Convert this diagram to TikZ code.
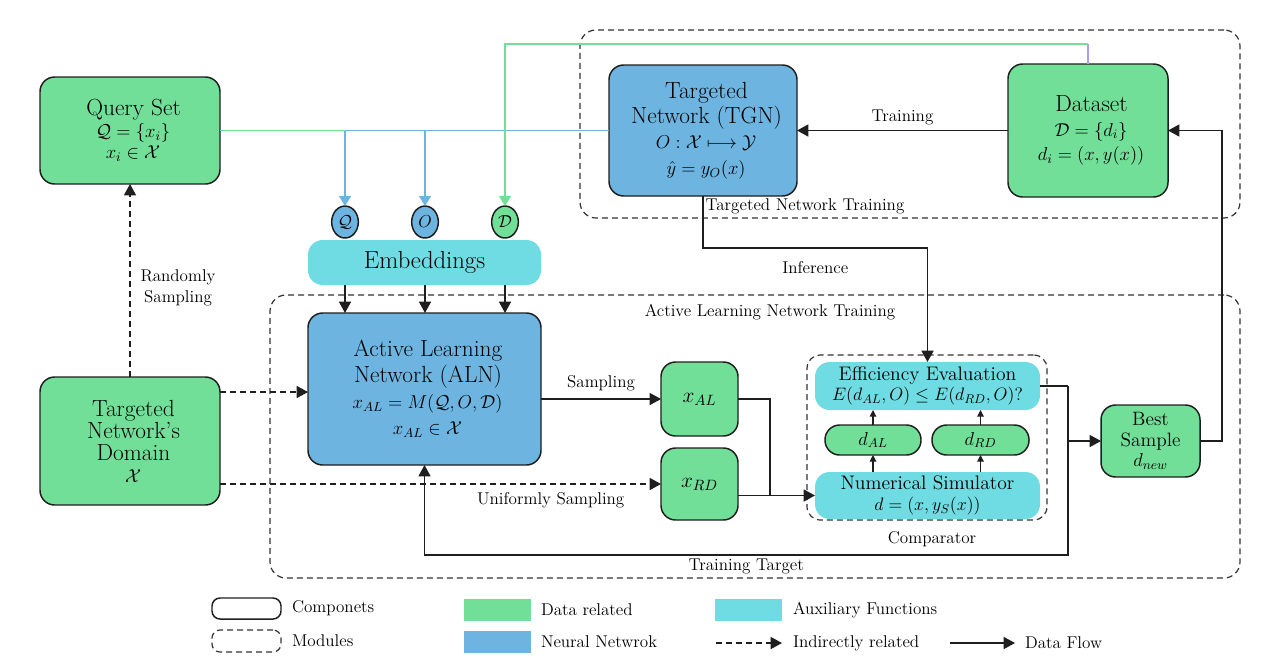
\RequirePackage{fix-cm}
\documentclass[tikz,border=0pt]{standalone}
\usepackage{amsmath,amssymb}
\usepackage{fontspec}
\usetikzlibrary{arrows.meta,calc,shapes.geometric}
\definecolor{cgreen}{HTML}{72DF99}
\definecolor{cblue}{HTML}{6DB5E0}
\definecolor{ccyan}{HTML}{6FDBE2}
\definecolor{cpurple}{HTML}{A99CF5}
\definecolor{cline}{HTML}{1E1E1E}
\definecolor{cdash}{HTML}{333333}
\newcommand\ttlA[1]{\fontsize{17.5}{#1}\selectfont}
\newcommand\mthA[1]{\fontsize{14}{#1}\selectfont}
\begin{document}
\begin{tikzpicture}[x=0.75pt,y=-0.75pt,
  every node/.style={inner sep=0pt, outer sep=0pt},
  spanpx/.style args={#1/#2/#3/#4}{at={({(#1+#3)/2},{(#2+#4)/2})}, minimum width={(#3-#1)*0.75pt}, minimum height={(#4-#2)*0.75pt}},
  box/.style={draw=cline, line width=1.1pt, rounded corners=11pt, align=center, inner sep=0pt},
  gbox/.style={box, fill=cgreen},
  bbox/.style={box, fill=cblue},
  abox/.style={fill=ccyan, rounded corners=11pt, align=center, inner sep=0pt},
  modbox/.style={draw=cdash, line width=0.9pt, dash pattern=on 4.5pt off 3pt, rounded corners=12pt, inner sep=0pt},
  plainline/.style={draw=cline, line width=1.1pt},
  flow/.style={draw=cline, line width=1.1pt, -{Triangle[length=8.5pt,width=9pt]}},
  indir/.style={flow, dash pattern=on 4.5pt off 3pt},
  smallflow/.style={draw=cline, line width=0.8pt, -{Triangle[length=5pt,width=5pt]}},
  gline/.style={draw=cgreen, line width=1.2pt},
  bline/.style={draw=cblue, line width=1.2pt},
  ctip/.style={-{Triangle[length=7.5pt,width=9pt]}},
  circ/.style={ellipse, draw=cline, line width=1.1pt, minimum width=20pt, minimum height=24pt, font=\fontsize{13}{15}\selectfont},
  lbl/.style={font=\fontsize{12.8}{15.5}\selectfont, align=center}
]
\useasboundingbox (0,0) rectangle (1280,669);

% modules
\node[modbox, spanpx=580/30/1240/218] (tnt) {};
\node[modbox, spanpx=270/295/1240/578] (alnt) {};
\node[modbox, rounded corners=10pt, spanpx=807/355/1047/520] (cmp) {};
\node[lbl] (ltnt) at (805,206) {Targeted Network Training};
\node[lbl] (lalnt) at (770,312) {Active Learning Network Training};
\node[lbl] (lcmp) at (932,539) {Comparator};

% components
\node[gbox, spanpx=40/77/220/184, font=\mthA{16}] (qs)
  {\ttlA{16} Query Set\\
   \mthA{16} $\mathcal{Q}=\{x_i\}$\\
   \mthA{16} $x_i\in\mathcal{X}$};
\node[bbox, spanpx=609/65/797/196, font=\mthA{19}] (tgn)
  {\ttlA{19} Targeted\\
   \ttlA{19} Network (TGN)\\
   \mthA{19} $O:\mathcal{X}\longmapsto\mathcal{Y}$\\
   \mthA{19} $\hat{y}=y_O(x)$};
\node[gbox, spanpx=1008/64/1168/197, font=\mthA{18.5}] (ds)
  {\ttlA{18.5} Dataset\\
   \mthA{18.5} $\mathcal{D}=\{d_i\}$\\
   \mthA{18.5} $d_i=(x,y(x))$};
\node[circ, fill=cblue] (cq) at (345,222) {$\mathcal{Q}$};
\node[circ, fill=cblue] (co) at (425,222) {$O$};
\node[circ, fill=cgreen] (cd) at (505,222) {$\mathcal{D}$};
\node[abox, spanpx=308/240/541/285, font=\fontsize{18.5}{20}\selectfont] (emb) {Embeddings};
\node[bbox, spanpx=308/313/541/465, font=\mthA{19.5}] (aln)
  {\ttlA{19.5} Active Learning\\
   \ttlA{19.5} Network (ALN)\\
   \mthA{19.5} $x_{AL}=M(\mathcal{Q},O,\mathcal{D})$\\
   \mthA{19.5} $x_{AL}\in\mathcal{X}$};
\node[gbox, spanpx=40/377/220/505, font=\mthA{16.5}] (tnd)
  {\ttlA{16.5} Targeted\\
   \ttlA{16.5} Network’s\\
   \ttlA{16.5} Domain\\
   \mthA{16.5} $\mathcal{X}$};
\node[gbox, spanpx=661/362/738/436, font=\fontsize{16}{18}\selectfont] (xal) {$x_{AL}$};
\node[gbox, spanpx=661/448/738/520, font=\fontsize{16}{18}\selectfont] (xrd) {$x_{RD}$};
\node[abox, spanpx=815/362/1040/410, font=\fontsize{14}{15.5}\selectfont] (ee)
  {\fontsize{14.7}{15.5}\selectfont Efficiency Evaluation\\
   \fontsize{13.5}{15.5}\selectfont $E(d_{AL},O)\leq E(d_{RD},O)?$};
\node[gbox, spanpx=825/425/921/455, font=\fontsize{14}{16}\selectfont] (dal) {$d_{AL}$};
\node[gbox, spanpx=932/425/1029/455, font=\fontsize{14}{16}\selectfont] (drd) {$d_{RD}$};
\node[abox, spanpx=815/472/1040/519, font=\fontsize{14}{15.5}\selectfont] (ns)
  {\fontsize{14.7}{15.5}\selectfont Numerical Simulator\\
   \fontsize{13.5}{15.5}\selectfont $d=(x,y_S(x))$};
\node[gbox, spanpx=1101/405/1200/477, font=\fontsize{14}{15.5}\selectfont] (bs)
  {\fontsize{14.5}{15.5}\selectfont Best\\
   \fontsize{14.5}{15.5}\selectfont Sample\\
   \fontsize{14}{15.5}\selectfont $d_{new}$};

% coloured feeds to the embeddings
\draw[gline] (qs.east) -- (qs.east -| cq);
\draw[bline] (tgn.west |- qs.east) -- (qs.east -| cq);
\draw[bline, ctip] (qs.east -| cq) -- (cq.north);
\draw[bline, ctip] (qs.east -| co) -- (co.north);
\coordinate (dtop) at ($(ds.north)+(0,-20)$);
\draw[draw=cpurple, line width=1.2pt] (ds.north) -- (dtop);
\draw[gline, ctip] (dtop) -| (cd.north);

% embeddings to ALN
\draw[flow] (emb.south -| cq) -- (aln.north -| cq);
\draw[flow] (emb.south -| co) -- (aln.north -| co);
\draw[flow] (emb.south -| cd) -- (aln.north -| cd);

% targeted network training
\draw[flow] (ds.west) -- node[lbl, above=4.5pt] (ltr) {Training} (tgn.east);
\draw[flow] (tgn.south) -- ++(0,52) -| node[lbl, pos=0.25, below=10pt] (linf) {Inference} (ee.north);

% domain
\draw[indir] (tnd.north) -- (qs.south);
\node[lbl] (lrs) at (178,288) {Randomly\\Sampling};
\coordinate (ya) at (0,392);
\draw[indir] (tnd.east |- ya) -- (aln.west |- ya);
\draw[indir] (tnd.east |- xrd.west) -- node[lbl, pos=0.75, below=6pt] (lus) {Uniformly Sampling} (xrd.west);

% sampling
\draw[flow] (aln.east |- xal.west) -- node[lbl, above=6pt] (lsm) {Sampling} (xal.west);
\coordinate (jx) at ($(xal.east)+(32,0)$);
\draw[plainline] (xal.east) -- (jx) -- (jx |- ns.west);
\draw[flow] (xrd.east |- ns.west) -- (ns.west);

% comparator internals
\draw[smallflow] (ns.north -| dal) -- (dal.south);
\draw[smallflow] (dal.north) -- (ee.south -| dal);
\draw[smallflow] (ns.north -| drd) -- (drd.south);
\draw[smallflow] (drd.north) -- (ee.south -| drd);

% best sample
\coordinate (je) at ($(ee.east)+(28,0)$);
\draw[plainline] (ee.east) -- (je);
\draw[flow] (je) |- (bs.west);
\draw[flow] (je |- bs.west) -- ++(0,114) -| node[lbl, pos=0.25, below=3pt] (ltt) {Training Target} (aln.south);
\coordinate (jb) at ($(bs.east)+(22,0)$);
\draw[flow] (bs.east) -- (jb) |- (ds.east);

% legend
\node[box, rounded corners=6pt, spanpx=212/598/281/619] (lgc) {};
\node[lbl, anchor=west] (lgct) at (292,608) {Componets};
\node[modbox, rounded corners=6pt, spanpx=212/630/281/652] (lgm) {};
\node[lbl, anchor=west] (lgmt) at (292,641) {Modules};
\node[fill=cgreen, spanpx=464/599/531/621] (lgg) {};
\node[lbl, anchor=west] (lggt) at (541,610) {Data related};
\node[fill=cblue, spanpx=464/631/531/653] (lgb) {};
\node[lbl, anchor=west] (lgbt) at (541,642) {Neural Netwrok};
\node[fill=ccyan, spanpx=715/599/782/621] (lga) {};
\node[lbl, anchor=west] (lgat) at (793,610) {Auxiliary Functions};
\coordinate (li1) at (716,643);
\coordinate (li2) at (782,643);
\draw[indir] (li1) -- (li2);
\node[lbl, anchor=west] (lgit) at (793,643) {Indirectly related};
\coordinate (lf1) at (950,643);
\coordinate (lf2) at (1015,643);
\draw[flow] (lf1) -- (lf2);
\node[lbl, anchor=west] (lgft) at (1025,643) {Data Flow};
\end{tikzpicture}
\end{document}
